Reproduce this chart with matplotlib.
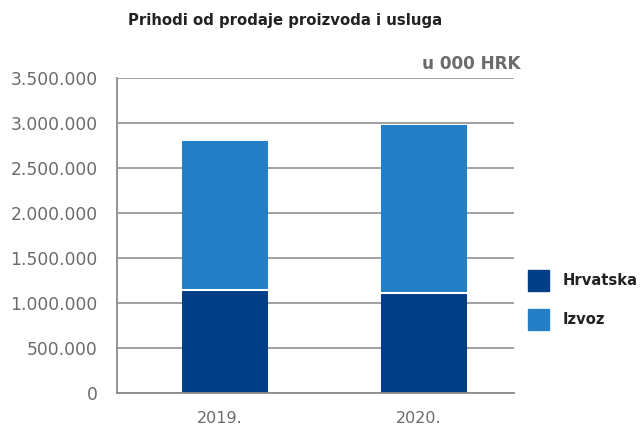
import numpy as np
import matplotlib.pyplot as plt
import matplotlib.transforms as mtransforms
from matplotlib.patches import Rectangle
from matplotlib.ticker import FuncFormatter

plt.rcParams.update({'font.family': ['DejaVu Sans']})

years = ['2019.', '2020.']
hrvatska = [1133000, 1108000]
izvoz = [1670000, 1873000]
labels = ['Hrvatska', 'Izvoz']
colors = ['#003f87', '#2380c6']
gray = '#8c8c8c'

fig = plt.figure(figsize=(6.4, 4.25), dpi=100)
ax = fig.add_axes([117 / 640, 1 - 393 / 425, 397 / 640, 315 / 425])

x = np.arange(len(years))
w = 0.432
ax.bar(x, hrvatska, w, color=colors[0], zorder=3)
ax.bar(x, izvoz, w, bottom=hrvatska, color=colors[1], zorder=3,
       linewidth=0)
# thin white separator between the segments
for xi, h in zip(x, hrvatska):
    ax.plot([xi - w / 2, xi + w / 2], [h + 8000, h + 8000], color='white',
            lw=1.5, zorder=4, solid_capstyle='butt')

ax.set_xlim(-0.543, 1.452)
ax.set_ylim(0, 3500000)
ax.set_yticks(np.arange(0, 3500001, 500000))
ax.yaxis.set_major_formatter(
    FuncFormatter(lambda v, p: f'{int(v):,}'.replace(',', '.')))
ax.set_xticks(x)
ax.set_xticklabels(years)
ax.grid(axis='y', color='#9a9a9a', lw=1.3, zorder=1)
ax.tick_params(length=0, labelsize=12.3, colors='#6b6b6b', pad=14)
ax.tick_params(axis='x', pad=13, labelsize=11.5)
shift = mtransforms.ScaledTranslation(-5 / 100, 0, fig.dpi_scale_trans)
for lbl in ax.get_xticklabels():
    lbl.set_transform(lbl.get_transform() + shift)
for s in ['top', 'right']:
    ax.spines[s].set_visible(False)
for s in ['left', 'bottom']:
    ax.spines[s].set_color(gray)
    ax.spines[s].set_linewidth(1.3)
    ax.spines[s].set_zorder(5)

fig.text(128 / 640, 1 - 20 / 425, 'Prihodi od prodaje proizvoda i usluga',
         fontsize=10.75, fontweight='bold', color='#222222', va='center')
fig.text(520 / 640, 1 - 64 / 425, 'u 000 HRK', fontsize=12.2,
         fontweight='bold', color='#6b6b6b', va='center', ha='right')

# legend
for i, (lab, c) in enumerate(zip(labels, colors)):
    y0 = 270 + i * 39
    fig.patches.append(Rectangle((528 / 640, 1 - (y0 + 21) / 425),
                                 21 / 640, 21 / 425, color=c,
                                 transform=fig.transFigure))
    fig.text(563 / 640, 1 - (y0 + 10.5) / 425, lab, fontsize=10.6,
             fontweight='bold', color='#222222', va='center')

fig.savefig('out.png', dpi=100)
